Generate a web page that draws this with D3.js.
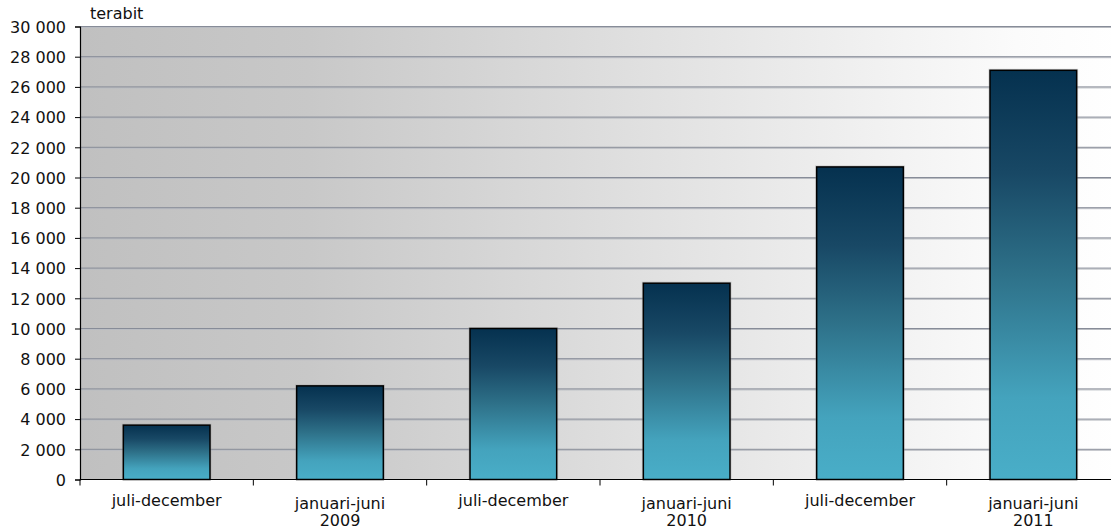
<!DOCTYPE html>
<html>
  <head>
    <meta charset="utf-8" />
    <style>
      body {
        margin: 0;
        background: #fff;
      }
      svg {
        display: block;
        font-family: 'DejaVu Sans', Verdana, sans-serif;
      }
      .ylab text {
        font-size: 16px;
        font-family: 'DejaVu Sans', Verdana, sans-serif;
        fill: #111;
      }
    </style>
  </head>
  <body>
    <div class="chart"></div>
    <script src="https://d3js.org/d3.v7.min.js"></script>
    <script type="text/javascript">
      const labelTop = ['juli-december', 'januari-juni', 'juli-december', 'januari-juni', 'juli-december', 'januari-juni'];
      const labelYear = ['', '2009', '', '2010', '', '2011'];
      const values = [3600, 6200, 10000, 13000, 20700, 27100];
      const yTicks = [0, 2000, 4000, 6000, 8000, 10000, 12000, 14000, 16000, 18000, 20000, 22000, 24000, 26000, 28000, 30000];
      const unitLabel = 'terabit';

      const width = 1111;
      const height = 528;
      const margin = { top: 26.5, left: 80, bottom: 479.5, right: 1120 };

      const data = values.map((v, i) => ({ key: i, value: v, top: labelTop[i], year: labelYear[i] }));

      const svg = d3
        .select('.chart')
        .append('svg')
        .attr('width', width)
        .attr('height', height);

      const defs = svg.append('defs');
      const bg = defs.append('linearGradient').attr('id', 'bg').attr('x1', 0).attr('x2', 1).attr('y1', 0).attr('y2', 0);
      bg.append('stop').attr('offset', '0%').attr('stop-color', '#c0c0c0');
      bg.append('stop').attr('offset', '22%').attr('stop-color', '#c8c8c8');
      bg.append('stop').attr('offset', '90%').attr('stop-color', '#fbfbfb');
      bg.append('stop').attr('offset', '100%').attr('stop-color', '#ffffff');

      const barGrad = defs.append('linearGradient').attr('id', 'bar').attr('x1', 0).attr('x2', 0).attr('y1', 0).attr('y2', 1);
      barGrad.append('stop').attr('offset', '0%').attr('stop-color', '#05314f');
      barGrad.append('stop').attr('offset', '25%').attr('stop-color', '#184865');
      barGrad.append('stop').attr('offset', '50%').attr('stop-color', '#2e7189');
      barGrad.append('stop').attr('offset', '80%').attr('stop-color', '#44a3bd');
      barGrad.append('stop').attr('offset', '100%').attr('stop-color', '#49aec8');

      const x = d3
        .scaleBand()
        .domain(data.map((d) => d.key))
        .range([margin.left, margin.right])
        .paddingInner(0.5)
        .paddingOuter(0.25);

      const y = d3.scaleLinear().domain([0, 30000]).range([margin.bottom, margin.top]);

      // plot background
      svg
        .append('rect')
        .attr('x', margin.left)
        .attr('y', margin.top)
        .attr('width', margin.right - margin.left)
        .attr('height', margin.bottom - margin.top)
        .attr('fill', 'url(#bg)');

      // grid lines (with a faint shadow under each)
      const grid = svg.append('g');
      grid
        .selectAll('line.shadow')
        .data(yTicks.slice(1))
        .enter()
        .append('line')
        .attr('class', 'shadow')
        .attr('x1', margin.left)
        .attr('x2', margin.right)
        .attr('y1', (d) => y(d) + 1)
        .attr('y2', (d) => y(d) + 1)
        .attr('stroke', '#b9bcc2')
        .attr('stroke-width', 1);
      grid
        .selectAll('line.main')
        .data(yTicks.slice(1))
        .enter()
        .append('line')
        .attr('class', 'main')
        .attr('x1', margin.left)
        .attr('x2', margin.right)
        .attr('y1', (d) => y(d))
        .attr('y2', (d) => y(d))
        .attr('stroke', '#878c98')
        .attr('stroke-width', 1);

      // bars
      svg
        .selectAll('rect.shade')
        .data(data)
        .enter()
        .append('rect')
        .attr('class', 'shade')
        .attr('x', (d) => x(d.key) - 1)
        .attr('y', (d) => y(d.value) - 1)
        .attr('width', x.bandwidth() + 2)
        .attr('height', (d) => y(0) - y(d.value) + 1)
        .attr('fill', 'none')
        .attr('stroke', '#999')
        .attr('stroke-opacity', 0.4)
        .attr('stroke-width', 1);

      svg
        .selectAll('rect.bar')
        .data(data)
        .enter()
        .append('rect')
        .attr('class', 'bar')
        .attr('x', (d) => x(d.key))
        .attr('y', (d) => y(d.value))
        .attr('width', x.bandwidth())
        .attr('height', (d) => y(0) - y(d.value))
        .attr('fill', 'url(#bar)')
        .attr('stroke', '#000')
        .attr('stroke-width', 1.5);

      // y axis
      const axisLeft = d3
        .axisLeft(y)
        .tickValues(yTicks)
        .tickSize(5)
        .tickPadding(9)
        .tickFormat((d) => d3.format(',')(d).replace(/,/g, ' '));
      const gy = svg
        .append('g')
        .attr('class', 'ylab')
        .attr('transform', `translate(${margin.left},0)`)
        .call(axisLeft)
        .attr('font-family', null)
        .attr('font-size', null);
      gy.select('.domain').attr('stroke', '#000').attr('stroke-width', 1.2);
      gy.selectAll('.tick line').attr('stroke', '#000');
      gy.selectAll('.tick text').attr('dy', '0.36em');

      // x axis: ticks at band boundaries
      const bounds = d3.range(data.length + 1).map((i) => margin.left + i * x.step());
      svg
        .append('line')
        .attr('x1', margin.left)
        .attr('x2', margin.right)
        .attr('y1', y(0))
        .attr('y2', y(0))
        .attr('stroke', '#000')
        .attr('stroke-width', 1.2);
      svg
        .selectAll('line.xtick')
        .data(bounds)
        .enter()
        .append('line')
        .attr('class', 'xtick')
        .attr('x1', (d) => d)
        .attr('x2', (d) => d)
        .attr('y1', y(0))
        .attr('y2', y(0) + 6)
        .attr('stroke', '#000');

      const xl = svg
        .selectAll('text.xlab')
        .data(data)
        .enter()
        .append('text')
        .attr('class', 'xlab')
        .attr('text-anchor', 'middle')
        .attr('font-size', '16px')
        .attr('fill', '#111')
        .attr('x', (d) => x(d.key) + x.bandwidth() / 2)
        .attr('y', (d) => (d.year ? 509 : 506));
      xl.append('tspan')
        .attr('x', (d) => x(d.key) + x.bandwidth() / 2)
        .text((d) => d.top);
      xl.filter((d) => d.year)
        .append('tspan')
        .attr('x', (d) => x(d.key) + x.bandwidth() / 2)
        .attr('dy', 17)
        .text((d) => d.year);

      svg
        .append('text')
        .attr('x', 90)
        .attr('y', 19)
        .attr('font-size', '16px')
        .attr('fill', '#111')
        .text(unitLabel);
    </script>
  </body>
</html>
